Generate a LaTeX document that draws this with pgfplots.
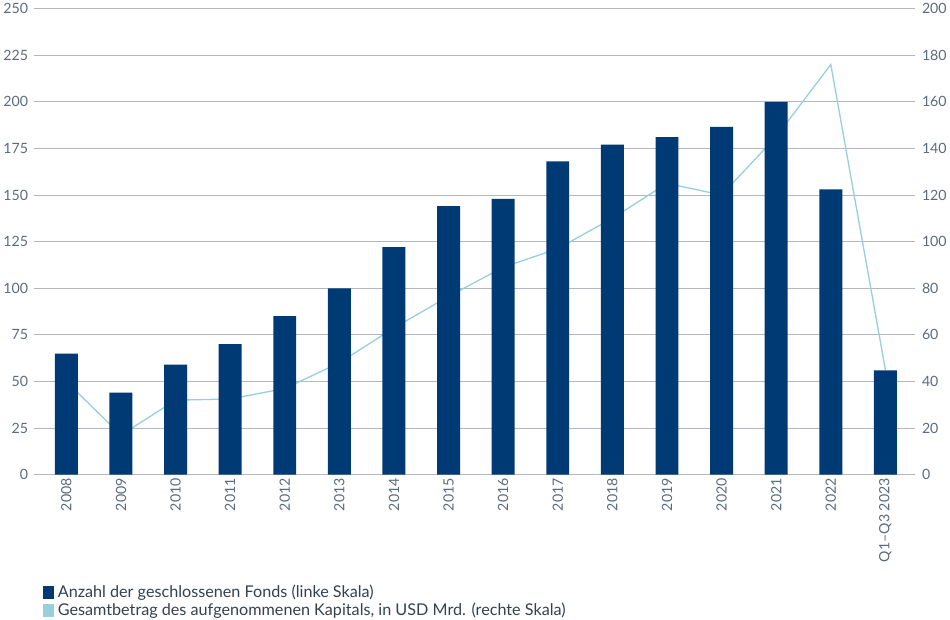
\documentclass[border=0pt]{standalone}
\usepackage{fontspec}
\setmainfont{Lato}
\usepackage{pgfplots}
\usepackage{pgfplotstable}
\pgfplotsset{compat=1.18}

\definecolor{navy}{HTML}{003A75}
\definecolor{lightblue}{HTML}{98CFDB}
\definecolor{tickgray}{HTML}{5B6B7C}
\definecolor{gridgray}{HTML}{B4B8BC}
\definecolor{legendtext}{HTML}{34414F}

% x: 0 = 2008 ... 15 = Q1-Q3 2023
\pgfplotstableread{
x  funds  capital
0  65     40
1  44     17
2  59     32
3  70     32.5
4  85     37
5  100    48
6  122    63
7  144    76.5
8  148    89
9  168    97
10 177    110
11 181    125
12 186.5  120
13 200    145
14 153    176
15 56     45
}\data

\pgfplotsset{
  base/.style={
    width=872bp, height=461bp, scale only axis,
    xmin=-0.6, xmax=15.55, ymin=0,
    axis line style={draw=none},
    major tick style={draw=none},
    tick label style={font=\fontsize{14bp}{16bp}\selectfont, text=tickgray},
    /pgf/number format/assume math mode=true,
  },
}

\begin{document}
\begin{tikzpicture}
% grid, left scale, categories, legend
\begin{axis}[base,
  ymax=250, ytick={0,25,...,250}, ytick pos=left,
  ymajorgrids, grid style={gridgray, line width=0.9bp},
  xtick={0,...,15}, xtick pos=bottom,
  xticklabels={2008,2009,2010,2011,2012,2013,2014,2015,2016,2017,2018,2019,2020,2021,2022,Q1--Q3 2023},
  xticklabel style={rotate=90, anchor=east},
  yticklabel style={xshift=-2bp},
  legend style={at={(0.011,-0.232)}, anchor=north west, draw=none, fill=none,
    font=\fontsize{16bp}{18bp}\selectfont, text=legendtext,
    cells={anchor=west}, row sep=0bp, inner sep=0pt},
  legend image code/.code={\fill[#1] (0bp,-6bp) rectangle (9bp,6bp); \path[draw=none, fill=none] (0bp,0bp) -- (12bp,0bp);},
]
\addlegendimage{navy, fill=navy}
\addlegendentry{Anzahl der geschlossenen Fonds (linke Skala)}
\addlegendimage{lightblue, fill=lightblue}
\addlegendentry{Gesamtbetrag des aufgenommenen Kapitals, in USD Mrd. (rechte Skala)}
\end{axis}
% line, right scale
\begin{axis}[base,
  ymax=200, ytick={0,20,...,200}, ytick pos=right,
  xtick=\empty,
  yticklabel style={xshift=3bp, anchor=west},
]
\addplot[lightblue, line width=1.3bp, mark=none] table[x=x, y=capital] {\data};
\end{axis}
% bars
\begin{axis}[base,
  ymax=250, ytick=\empty, xtick=\empty,
]
\addplot[ybar, bar width=0.42, fill=navy, draw=none] table[x=x, y=funds] {\data};
\end{axis}
\end{tikzpicture}
\end{document}
